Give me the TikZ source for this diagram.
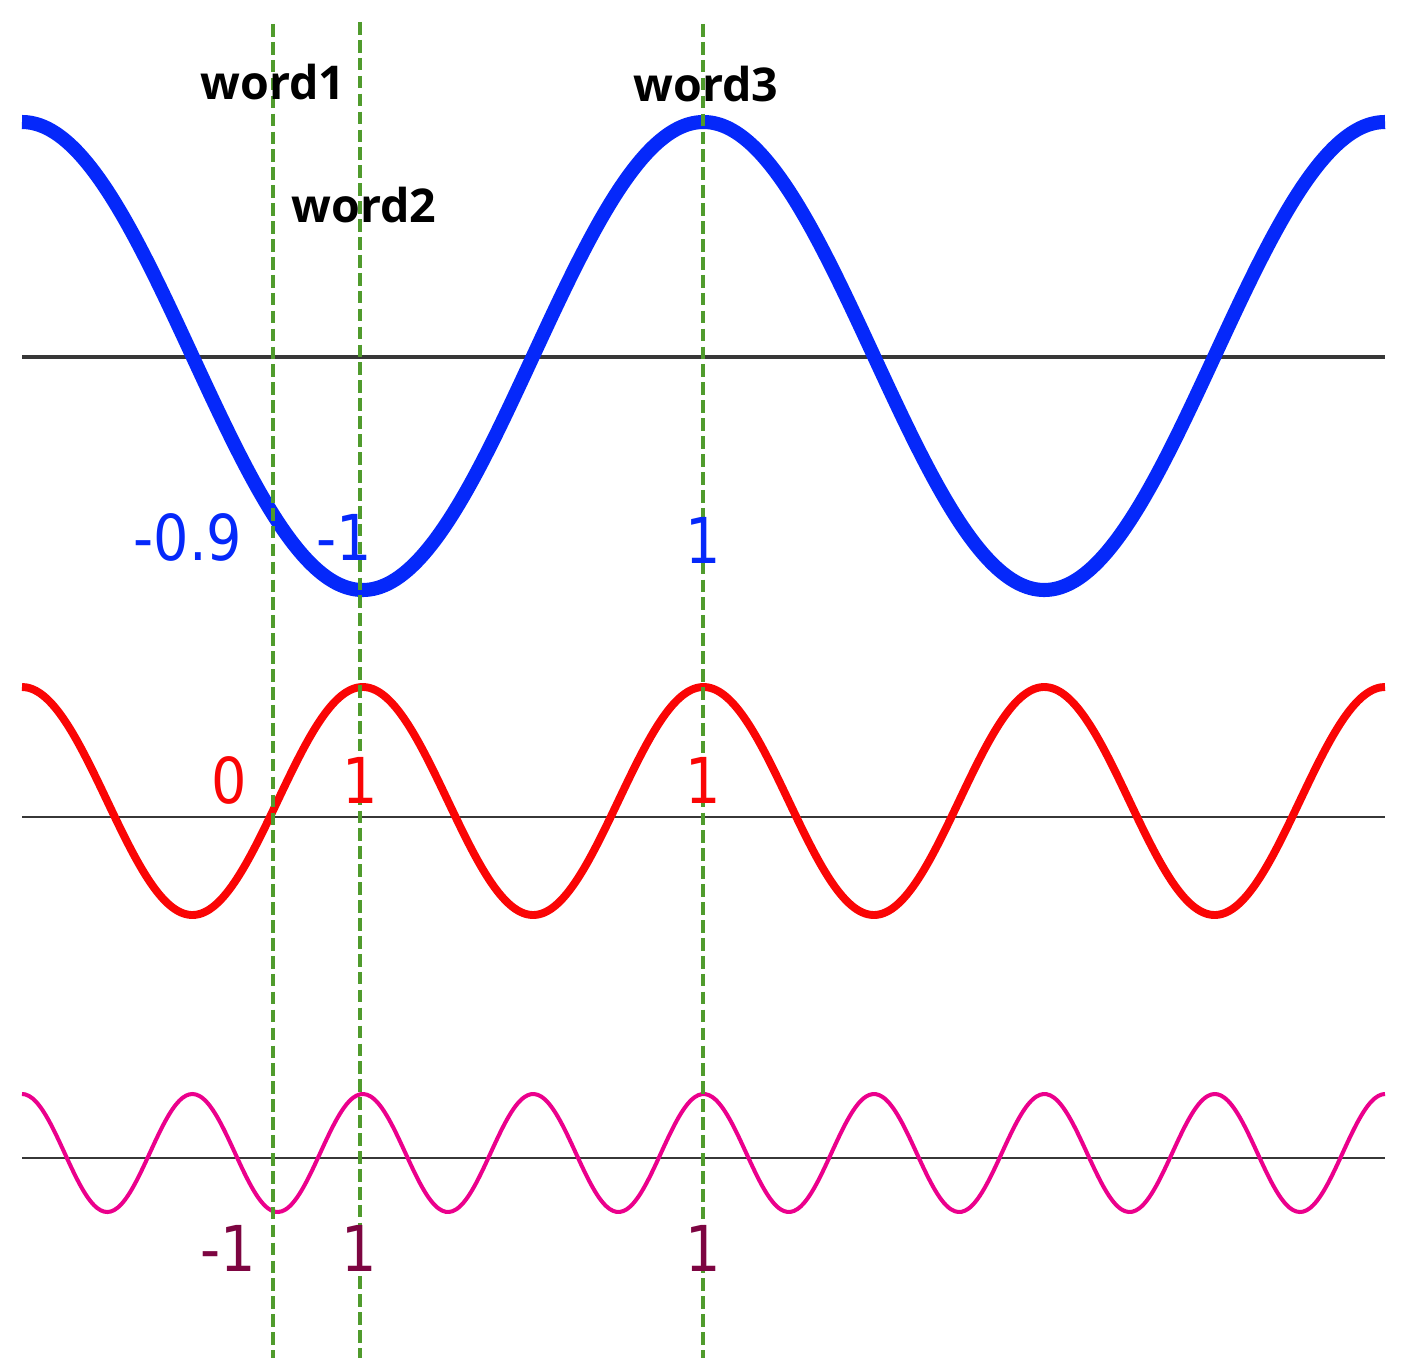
\documentclass[tikz,border=0pt]{standalone}
\usepackage{fontspec}
\setmainfont{DejaVu Sans}
\newfontfamily\numfont[FakeStretch=0.88]{DejaVu Sans}
\newfontfamily\wordfont{Open Sans}
\usetikzlibrary{positioning,calc}
\definecolor{wblue}{RGB}{5,40,250}
\definecolor{wred}{RGB}{250,5,5}
\definecolor{wpink}{RGB}{235,0,140}
\definecolor{wmaroon}{RGB}{125,5,65}
\definecolor{wgreen}{RGB}{80,155,45}
\definecolor{waxis}{RGB}{55,55,55}
\tikzset{
	numlabel/.style={inner sep=0pt,font=\numfont\fontsize{36}{40}\selectfont},
	wordlabel/.style={inner sep=0pt,font=\wordfont\bfseries\fontsize{26.5}{30}\selectfont},
	guide/.style={wgreen,line width=2.2pt,dash pattern=on 7.2pt off 3pt},
	axisline/.style={waxis,line width=1.4pt}
}
\begin{document}
\begin{tikzpicture}[x=0.02cm,y=-0.02cm]
	\useasboundingbox (0,0) rectangle (1412,1358);
	
	\coordinate (b0) at (22,357);  \coordinate (b1) at (1385,357);
	\coordinate (r0) at (22,817);  \coordinate (r1) at (1385,817);
	\coordinate (p0) at (22,1158); \coordinate (p1) at (1385,1158);
	\draw[axisline,line width=2.2pt] (b0) -- (b1);
	\draw[axisline,line width=1pt] (r0) -- (r1);
	\draw[axisline] (p0) -- (p1);
	
	\draw[wblue,line width=8pt] plot[domain=22:1385,samples=300,smooth] (\x,{356-234*cos((\x-22)/681.5*360)});
	\draw[wred,line width=4.5pt] plot[domain=22:1385,samples=300,smooth] (\x,{801-114*cos((\x-22)/340.75*360)});
	\draw[wpink,line width=2.3pt] plot[domain=22:1385,samples=400,smooth] (\x,{1153-59*cos((\x-22)/170.4*360)});
	
	\coordinate (g1top) at (273,24);  \coordinate (g1bot) at (273,1358);
	\coordinate (g2top) at (360,22);  \coordinate (g2bot) at (360,1358);
	\coordinate (g3top) at (703,24);  \coordinate (g3bot) at (703,1358);
	\draw[guide] (g1top) -- (g1bot);
	\draw[guide] (g2top) -- (g2bot);
	\draw[guide] (g3top) -- (g3bot);
	
	\node[wordlabel] (word1) at (273,82) {word1};
	\node[wordlabel] (word2) at (364,205) {word2};
	\node[wordlabel] (word3) at (706,84) {word3};
	
	\node[numlabel,text=wblue] (bluea) at (188,537) {-0.9};
	\node[numlabel,text=wblue] (blueb) at (344,537) {-1};
	\node[numlabel,text=wblue] (bluec) at (703,540) {1};
	
	\node[numlabel,text=wred] (reda) at (229,780) {0};
	\node[numlabel,text=wred] (redb) at (360,780) {1};
	\node[numlabel,text=wred] (redc) at (703,780) {1};
	
	\node[numlabel,text=wmaroon] (pinka) at (228,1248) {-1};
	\node[numlabel,text=wmaroon] (pinkb) at (359,1248) {1};
	\node[numlabel,text=wmaroon] (pinkc) at (703,1248) {1};
	
\end{tikzpicture}
\end{document}
